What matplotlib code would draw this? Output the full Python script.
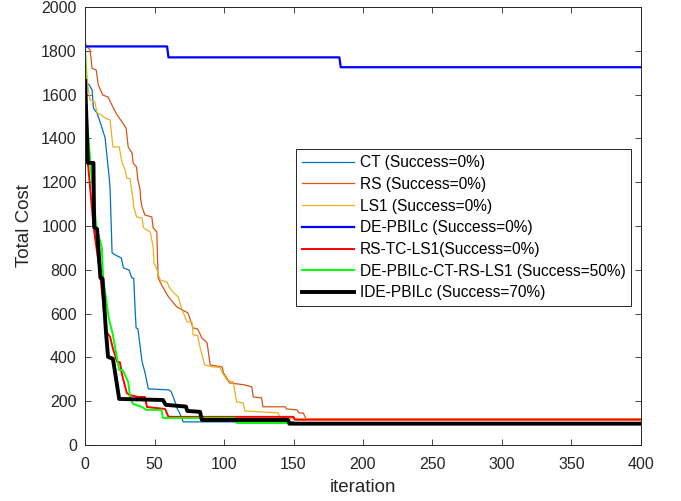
import matplotlib
matplotlib.use("Agg")
import matplotlib.pyplot as plt

plt.rcParams['font.family'] = ['Liberation Sans', 'DejaVu Sans']

# ---- data (iteration, total cost) breakpoints ----
ct_x = [0, 3, 5, 6, 8.6, 11.5, 14.4, 16, 17.5, 18, 19.4, 21.6, 26, 27.6, 31.6, 33.6, 35, 36, 36.7, 38, 41, 43, 45.5, 60.5, 62, 65, 66, 68, 70.6, 150, 151, 400]
ct_y = [1660, 1644, 1620, 1538, 1515, 1461, 1402, 1301, 1210, 1164, 877, 868, 854, 808, 799, 763, 760, 616, 534, 530, 379, 333, 256, 251, 242, 192, 169, 146, 105, 105, 97, 97]

rs_x = [0, 1, 3.6, 5, 8, 9.5, 12.7, 16.5, 20, 23, 26.6, 29.5, 31, 33.8, 34.5, 37, 38, 39.6, 40, 41, 43, 48, 49, 51.6, 52.5, 55, 60, 66, 74, 77.7, 81, 84, 87.8, 90, 98.6, 99.6, 104, 115, 120, 121, 127, 128, 144, 145, 152.5, 154, 157, 159, 400]
rs_y = [1840, 1820, 1804, 1720, 1712, 1644, 1598, 1589, 1543, 1507, 1475, 1447, 1361, 1333, 1288, 1269, 1210, 1164, 1119, 1087, 1050, 1041, 991, 973, 763, 731, 676, 630, 603, 534, 530, 489, 466, 365, 356, 329, 283, 274, 265, 219, 215, 174, 174, 164, 160, 146, 146, 119, 119]

ls1_x = [0, 2, 3.6, 7, 8.6, 11.5, 14.4, 18, 20, 24.5, 26.6, 28.8, 30, 32.4, 33.8, 34.5, 35, 37, 41, 42, 46.8, 49, 49.6, 51.8, 54, 59, 60.4, 63, 67, 69.8, 73.4, 77, 77.7, 81, 82.7, 86, 92, 97, 99.6, 102, 106.5, 108, 109, 113.7, 115, 139, 140, 145, 147, 400]
ls1_y = [1800, 1635, 1575, 1566, 1516, 1507, 1493, 1484, 1361, 1361, 1288, 1256, 1219, 1215, 1150, 1119, 1087, 1041, 1036, 991, 973, 904, 831, 799, 753, 744, 721, 699, 676, 616, 562, 560, 502, 500, 447, 365, 356, 354, 320, 297, 288, 237, 196, 192, 155, 146, 128, 123, 119, 119]

de_x = [0, 59, 60, 183, 184, 400]
de_y = [1820, 1820, 1770, 1770, 1725, 1725]

rstc_x = [0, 2, 6, 11, 15, 18, 20, 23, 25, 26.6, 30, 32, 38, 43, 44.5, 57.5, 60, 150, 151, 400]
rstc_y = [1660, 1290, 1000, 770, 520, 493, 440, 380, 378, 320, 237, 228, 219, 219, 173, 164, 128, 128, 115, 115]

dec_x = [0, 1, 5, 8, 12, 13, 17, 20, 24.5, 27, 31, 32.4, 34.5, 41, 44, 55, 56, 108, 109, 400]
dec_y = [1820, 1500, 1200, 1000, 900, 760, 580, 502, 342, 342, 288, 219, 187, 173, 160, 160, 123, 123, 100, 100]

ide_x = [0, 2, 6, 6.5, 8.6, 11, 12.5, 15, 16.5, 20, 21.5, 24.5, 56, 58, 72.6, 73.5, 82.7, 84, 146, 147, 400]
ide_y = [1662, 1288, 1288, 995, 986, 763, 760, 516, 402, 393, 333, 210, 205, 183, 175, 155, 151, 114, 114, 97, 97]

labels = ['CT (Success=0%)', 'RS (Success=0%)', 'LS1 (Success=0%)',
          'DE-PBILc (Success=0%)', 'RS-TC-LS1(Success=0%)',
          'DE-PBILc-CT-RS-LS1 (Success=50%)', 'IDE-PBILc (Success=70%)']

x_ticks = list(range(0, 401, 50))
y_ticks = list(range(0, 2001, 200))

fig = plt.figure(figsize=(6.81, 5.01), dpi=100)
ax = fig.add_axes([0.125, 0.112, 0.816, 0.874])

ax.plot(ct_x, ct_y, color='#0072BD', lw=0.9, label=labels[0])
ax.plot(rs_x, rs_y, color='#D95319', lw=0.9, label=labels[1])
ax.plot(ls1_x, ls1_y, color='#EDB120', lw=0.9, label=labels[2])
ax.plot(de_x, de_y, color='#0000FF', lw=1.6, label=labels[3])
ax.plot(rstc_x, rstc_y, color='#FF0000', lw=1.4, label=labels[4])
ax.plot(dec_x, dec_y, color='#00FF00', lw=1.4, label=labels[5])
ax.plot(ide_x, ide_y, color='#000000', lw=2.8, label=labels[6])

ax.set_xlim(0, 400)
ax.set_ylim(0, 2000)
ax.set_xticks(x_ticks)
ax.set_yticks(y_ticks)
ax.tick_params(direction='in', top=True, right=True, labelsize=11.5, colors='#262626',
               length=4, width=0.6, pad=6)
ax.tick_params(axis='x', pad=9)
for s in ax.spines.values():
    s.set_color('#262626')
    s.set_linewidth(0.7)
ax.set_xlabel('iteration', fontsize=13.5, color='#262626', labelpad=5)
ax.set_ylabel('Total Cost', fontsize=13.5, color='#262626', labelpad=6)

leg = ax.legend(loc='upper left', bbox_to_anchor=(0.380, 0.675), fontsize=11.2,
                frameon=True, fancybox=False, edgecolor='#262626', framealpha=1,
                handlelength=3.35, labelspacing=0.43, borderpad=0.38, handletextpad=0.35,
                borderaxespad=0)
leg.get_frame().set_linewidth(0.7)

fig.savefig('out.png', dpi=100)
